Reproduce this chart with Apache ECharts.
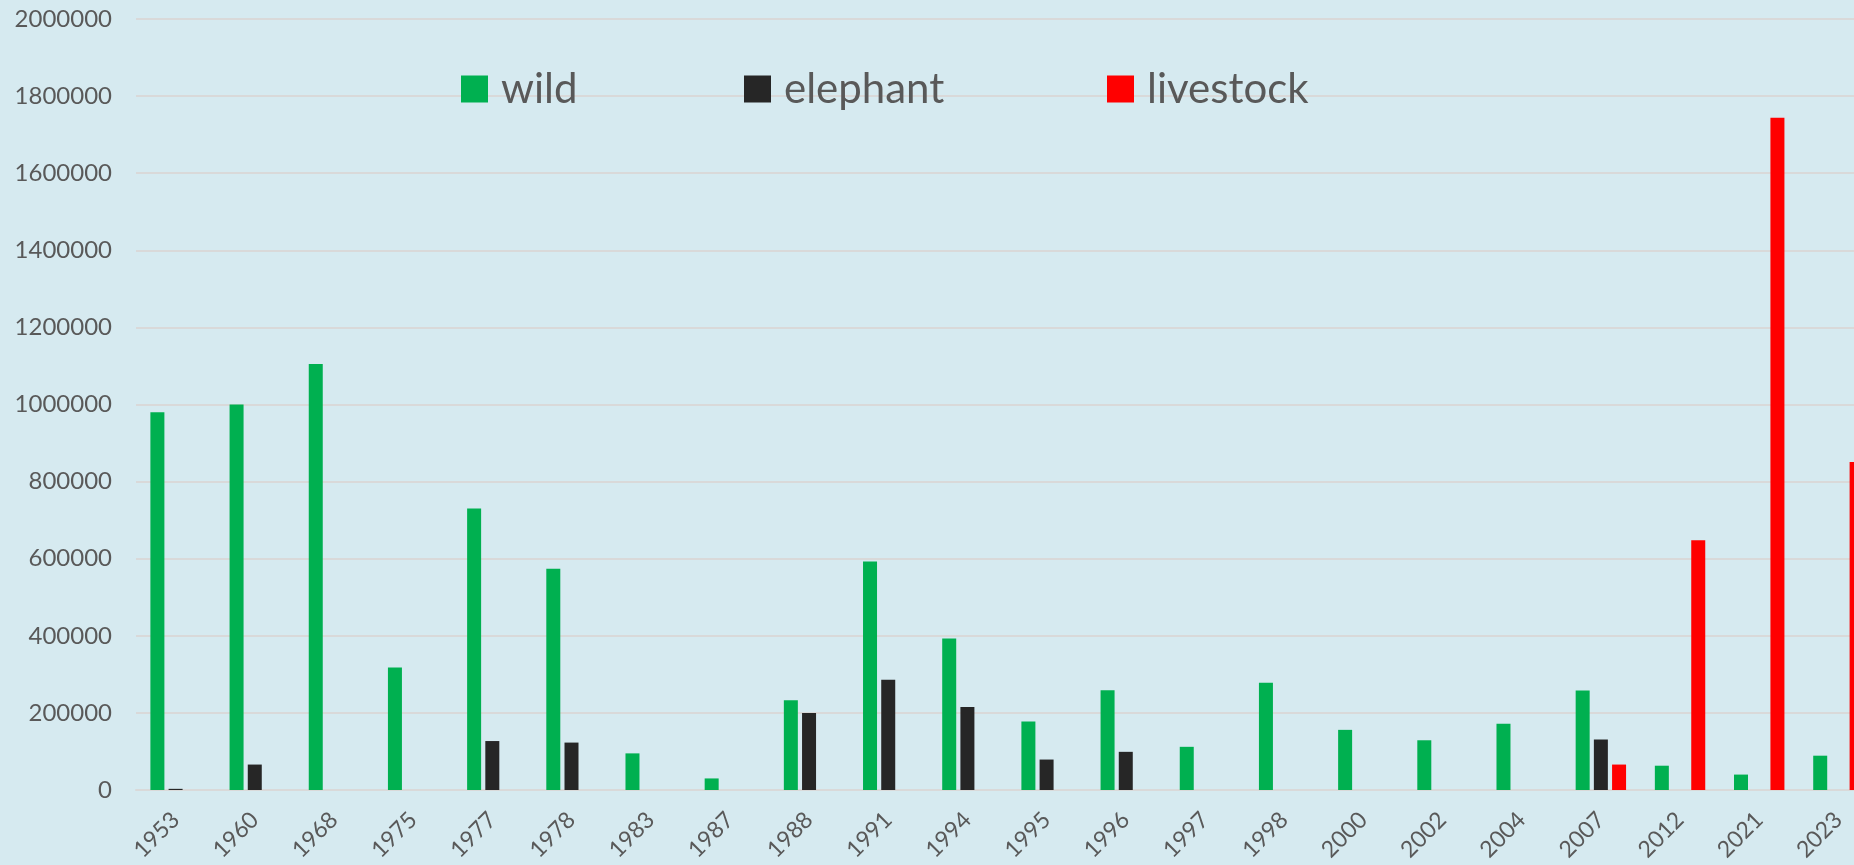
<!DOCTYPE html>
<html>
<head>
<meta charset="utf-8">
<script src="https://cdn.jsdelivr.net/npm/echarts@6/dist/echarts.min.js"></script>
<style>
    html, body {margin: 0; padding: 0; overflow: hidden; background: #D6EAF0;}
    #chart {width: 1900px; height: 865px;}
</style>
</head>
<body>
<div id="chart"></div>
<script>
const years = ['1953', '1960', '1968', '1975', '1977', '1978', '1983', '1987', '1988', '1991', '1994',
    '1995', '1996', '1997', '1998', '2000', '2002', '2004', '2007', '2012', '2021', '2023'];
const wild = [980000, 1000000, 1105000, 318000, 730000, 574000, 95000, 30000, 233000, 593000, 393000,
    178000, 259000, 112000, 278000, 156000, 129000, 172000, 258000, 63000, 40000, 89000];
const elephant = [3000, 66000, null, null, 127000, 123000, null, null, 200000, 286000, 215000,
    79000, 99000, null, null, null, null, null, 131000, null, null, null];
const livestock = [null, null, null, null, null, null, null, null, null, null, null,
    null, null, null, null, null, null, null, 66000, 648000, 1744000, 851000];

const colors = ['#00B050', '#262626', '#FF0000'];
const font = 'Lato';
const textColor = '#595959';

let chart = echarts.init(document.getElementById('chart'));

// one legend per item so each one sits where it does in the picture
const legendAt = (left, name) => ({
    left: left,
    top: 68,
    padding: 0,
    icon: 'rect',
    itemWidth: 27,
    itemHeight: 27,
    data: [name],
    textStyle: {fontFamily: font, fontSize: 42, color: textColor, padding: [0, 0, 0, 8]}
});

chart.setOption({
    backgroundColor: '#D6EAF0',
    color: colors,
    animation: false,
    legend: [
        legendAt(461, 'wild'),
        legendAt(744, 'elephant'),
        legendAt(1107, 'livestock')
    ],
    grid: {left: 136, right: 22, top: 19, bottom: 75, containLabel: false},
    xAxis: {
        type: 'category',
        data: years,
        axisTick: {show: false},
        axisLine: {lineStyle: {color: '#D9D9D9', width: 2}},
        axisLabel: {
            rotate: 45,
            margin: 26,
            interval: 0,
            fontFamily: font,
            fontSize: 23,
            color: textColor
        }
    },
    yAxis: {
        type: 'value',
        min: 0,
        max: 2000000,
        interval: 200000,
        axisLine: {show: false},
        axisTick: {show: false},
        splitLine: {lineStyle: {color: '#D9D9D9', width: 2}},
        axisLabel: {
            margin: 24,
            fontFamily: font,
            fontSize: 24,
            color: textColor,
            formatter: v => String(v)
        }
    },
    series: [
        {name: 'wild', type: 'bar', barWidth: 14, barGap: '30%', data: wild},
        {name: 'elephant', type: 'bar', barWidth: 14, barGap: '30%', data: elephant},
        {name: 'livestock', type: 'bar', barWidth: 14, barGap: '30%', data: livestock}
    ]
});
</script>
</body>
</html>
